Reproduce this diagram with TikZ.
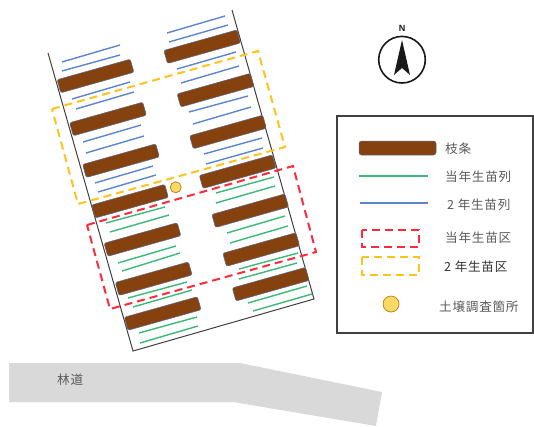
\documentclass[tikz,border=0pt]{standalone}
\usepackage{fontspec}
\newfontfamily\cjk{Noto Sans CJK JP}
\newfontfamily\cjkls[LetterSpace=6]{Noto Sans CJK JP}
\newfontfamily\sansb{Liberation Sans}
\definecolor{barbrown}{HTML}{85420F}
\definecolor{barrim}{HTML}{5A6A94}
\definecolor{rowgreen}{HTML}{3CB878}
\definecolor{rowblue}{HTML}{5B85CF}
\definecolor{zonered}{HTML}{FF2A3C}
\definecolor{zoneyellow}{HTML}{FFC21F}
\definecolor{roadgrey}{HTML}{D9D9D9}
\definecolor{textgrey}{HTML}{5A5A5A}
\definecolor{soilfill}{HTML}{FFD966}
\definecolor{soilrim}{HTML}{B08A1E}
\tikzset{
  barnode/.style={draw=barrim,line width=.5pt,fill=barbrown,rounded corners=2pt,inner sep=0pt,minimum width=76pt,minimum height=13.6pt},
  greenrow/.style={draw=rowgreen,line width=1.4pt},
  bluerow/.style={draw=rowblue,line width=1.4pt},
  redzone/.style={draw=zonered,line width=2pt,dash pattern=on 8pt off 5pt},
  yellowzone/.style={draw=zoneyellow,line width=2pt,dash pattern=on 8pt off 5pt},
  soilpt/.style={circle,draw=soilrim,line width=.8pt,fill=soilfill,inner sep=0pt},
  lab/.style={anchor=west,inner sep=0pt,text=textgrey,font=\cjkls\fontsize{12.6}{14}\selectfont},
}
\begin{document}
\begin{tikzpicture}[x=1pt,y=-1pt]
\useasboundingbox (0,0) rectangle (534,426);
% road
\fill[roadgrey] (9,363) -- (240,363) -- (382,392) -- (376,426) -- (233,402) -- (9,402) -- cycle;
\node[lab,text=textgrey] (roadlabel) at (57,380) {林道};
% plot boundary
\draw[black!75,line width=1pt] (48,53) -- (133,351) -- (314,299) -- (232,10);
% rows
\foreach \xa/\ya/\xb/\yb in {62/62/120/45,62/71/120/55,72/99/130/82,76/109/134/92,83/142/141/125,86/153/144/136,95/183/153/166,98/192/156/175,167/33/225/16,169/42/228/25,177/69/236/52,181/83/239/66,189/112/248/96,193/124/251/107,204/154/262/138,206/164/263/148}
  \draw[bluerow] (\xa,\ya) -- (\xb,\yb);
\foreach \xa/\ya/\xb/\yb in {106/223/165/207,110/232/169/215,118/263/176/246,122/271/180/253,128/298/187/282,133/307/192/290,139/333/197/317,140/343/198/326,216/193/274/177,216/203/275/186,227/233/285/216,230/243/288/226,239/269/298/253,239/279/297/263,248/303/307/286,253/311/312/294}
  \draw[greenrow] (\xa,\ya) -- (\xb,\yb);
% bars
\foreach \cx/\cy in {95.5/76,108/119,121/160.7,130/201.2,142.5/239.5,153.7/278.7,162.7/313.5,202.2/46.7,215.5/90.2,228/132,237.7/171.7,250.2/210.7,261.2/249.5,270.7/284.2}
  \node[barnode,rotate=15.7] at (\cx,\cy) {};
% zones
\draw[yellowzone] (52,109) -- (258,51) -- (285,147) -- (78,204) -- cycle;
\draw[redzone] (87,225) -- (293,166) -- (316,252) -- (110,309) -- cycle;
\node[soilpt,minimum size=11pt] (soil) at (175.7,187.3) {};
% compass
\draw[black!90,line width=1.6pt] (402,59.7) circle (23.3);
\fill[black!90] (402,40) -- (410,75) -- (402,68) -- (394,75) -- cycle;
\node[inner sep=0pt,font=\sansb\bfseries\fontsize{9}{10}\selectfont,text=black!90] (north) at (402,28) {N};
% legend
\draw[black!75,line width=1.2pt] (337,116) rectangle (533,333);
\node[barnode,minimum width=77pt,minimum height=14pt,rounded corners=2.5pt] (legbar) at (397.5,148) {};
\node[lab] (t1) at (445,149) {枝条};
\fill[rowgreen] (359,175) rectangle (428,176.5);
\node[lab] (t2) at (445,176.5) {当年生苗列};
\fill[rowblue] (360,202) rectangle (428,203.5);
\node[lab] (t3) at (447,205) {2 年生苗列};
\draw[redzone] (362,230) rectangle (419,247);
\node[lab] (t4) at (445,238) {当年生苗区};
\draw[yellowzone,line width=1.6pt] (362,257) rectangle (419,275);
\node[lab,text=black!80] (t5) at (444,267) {2 年生苗区};
\node[soilpt,minimum size=16pt] (legsoil) at (391,304) {};
\node[lab] (t6) at (439,307) {土壌調査箇所};
\end{tikzpicture}
\end{document}
